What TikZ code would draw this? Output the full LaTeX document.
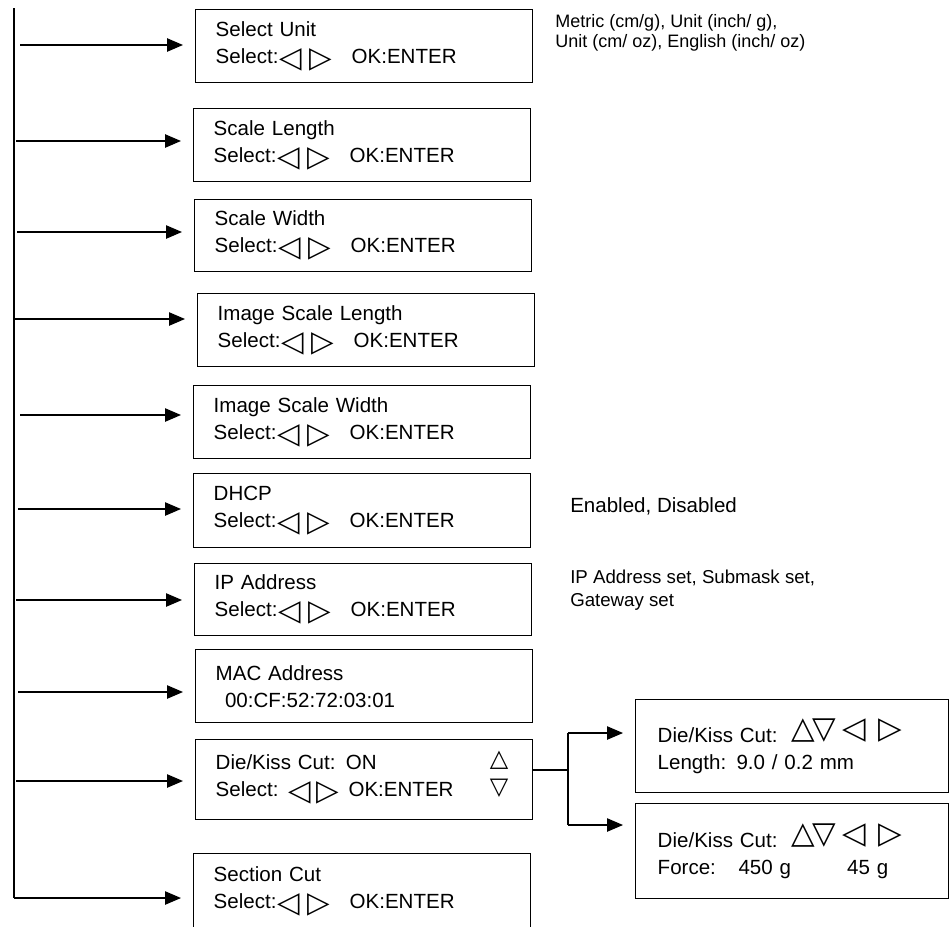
\documentclass[tikz,border=0pt]{standalone}
\usepackage{fontspec}
\setmainfont{Liberation Sans}
\newfontfamily\symfont{DejaVu Sans}
\usetikzlibrary{arrows.meta}

\newcommand{\tri}[1]{\raisebox{-3pt}{\fontsize{22}{22}\selectfont\symfont #1}}
\newcommand{\selkeys}{Select:\hspace{1pt}\tri{◁}\hspace{5pt}\tri{▷}\hspace{15pt}OK:ENTER}
\newcommand{\allkeys}{\hspace{3pt}\raisebox{3pt}{\fontsize{23}{23}\selectfont\symfont △\hspace{-2pt}▽\hspace{5pt}◁\hspace{9pt}▷}}

\begin{document}
\begin{tikzpicture}[
    x=0.75pt, y=-0.75pt,
    every node/.style={font=\fontsize{15.4}{20.3}\selectfont},
    screen/.style={draw, line width=1.1pt, anchor=north west, minimum width=252.75pt,
        text width=222.75pt, inner xsep=15pt, align=left},
    subscreen/.style={screen, minimum width=234.75pt, text width=201.75pt, inner xsep=16.5pt},
    link/.style={line width=1.1pt, shorten >=9pt, -{Triangle[length=12pt,width=10pt]}},
    trunk/.style={line width=1.1pt},
    note/.style={anchor=north west, align=left, inner sep=0pt}
]

\useasboundingbox (0,0) rectangle (949,926);

% menu screens
\node[screen, minimum height=54.75pt] (b1) at (195,9) {Select Unit\\\selkeys};
\node[screen, minimum height=54.75pt] (b2) at (193,108) {Scale Length\\\selkeys};
\node[screen, minimum height=54pt] (b3) at (194,199) {Scale Width\\\selkeys};
\node[screen, minimum height=54.75pt] (b4) at (197,293) {Image Scale Length\\\selkeys};
\node[screen, minimum height=54.75pt] (b5) at (193,385) {Image Scale Width\\\selkeys};
\node[screen, minimum height=55.5pt] (b6) at (193,473) {DHCP\\\selkeys};
\node[screen, minimum height=54pt] (b7) at (194,563) {IP Address\\\selkeys};
\node[screen, minimum height=54.75pt] (b8) at (195,649) {MAC Address\\\hspace{7pt}00:CF:52:72:03:01};
\node[screen, minimum height=60pt] (b9) at (195,739) {Die/Kiss Cut: ON\\Select: \tri{◁}\hspace{4pt}\tri{▷}\hspace{7pt}OK:ENTER};
\node[screen, minimum height=56.25pt] (b10) at (193,853) {Section Cut\\\selkeys};
\node[align=center, inner sep=0pt, font=\fontsize{18}{21}\selectfont\symfont] (b9keys) at (499,774) {△\\▽};

% die/kiss sub screens
\node[subscreen, minimum height=69.75pt] (dka) at (635,699) {Die/Kiss Cut: \allkeys\\Length: 9.0 / 0.2 mm};
\node[subscreen, minimum height=71.25pt] (dkb) at (635,803) {Die/Kiss Cut: \allkeys\\Force:\hspace{17pt}450 g\hspace{42pt}45 g};

% options
\node[note, font=\fontsize{13.5}{15.5}\selectfont] (unitopts) at (555,14) {Metric (cm/g), Unit (inch/ g),\\Unit (cm/ oz), English (inch/ oz)};
\node[note] (dhcpopts) at (570,497) {Enabled, Disabled};
\node[note, font=\fontsize{14}{17}\selectfont] (ipopts) at (570,570) {IP Address set, Submask set,\\Gateway set};

% arrows from the main line
\foreach \n/\sx/\ay in {1/20/45, 2/16/141, 3/17/232, 4/14/319, 5/20/415,
                        6/18/509, 7/16/600, 8/18/692, 9/16/781, 10/14/898}{
  \coordinate (s\n) at (\sx,\ay);
  \draw[link] (s\n) -- (s\n -| b\n.west);
}
\coordinate (top) at (14,8);
\draw[trunk] (top) -- (s10);

% branch to sub screens
\coordinate (fork) at (568,770);
\coordinate (forkup) at (568,733);
\coordinate (forkdown) at (568,825);
\draw[trunk] (fork -| b9.east) -- (fork);
\draw[trunk] (forkup) -- (forkdown);
\draw[link] (forkup) -- (forkup -| dka.west);
\draw[link] (forkdown) -- (forkdown -| dkb.west);

\end{tikzpicture}
\end{document}
